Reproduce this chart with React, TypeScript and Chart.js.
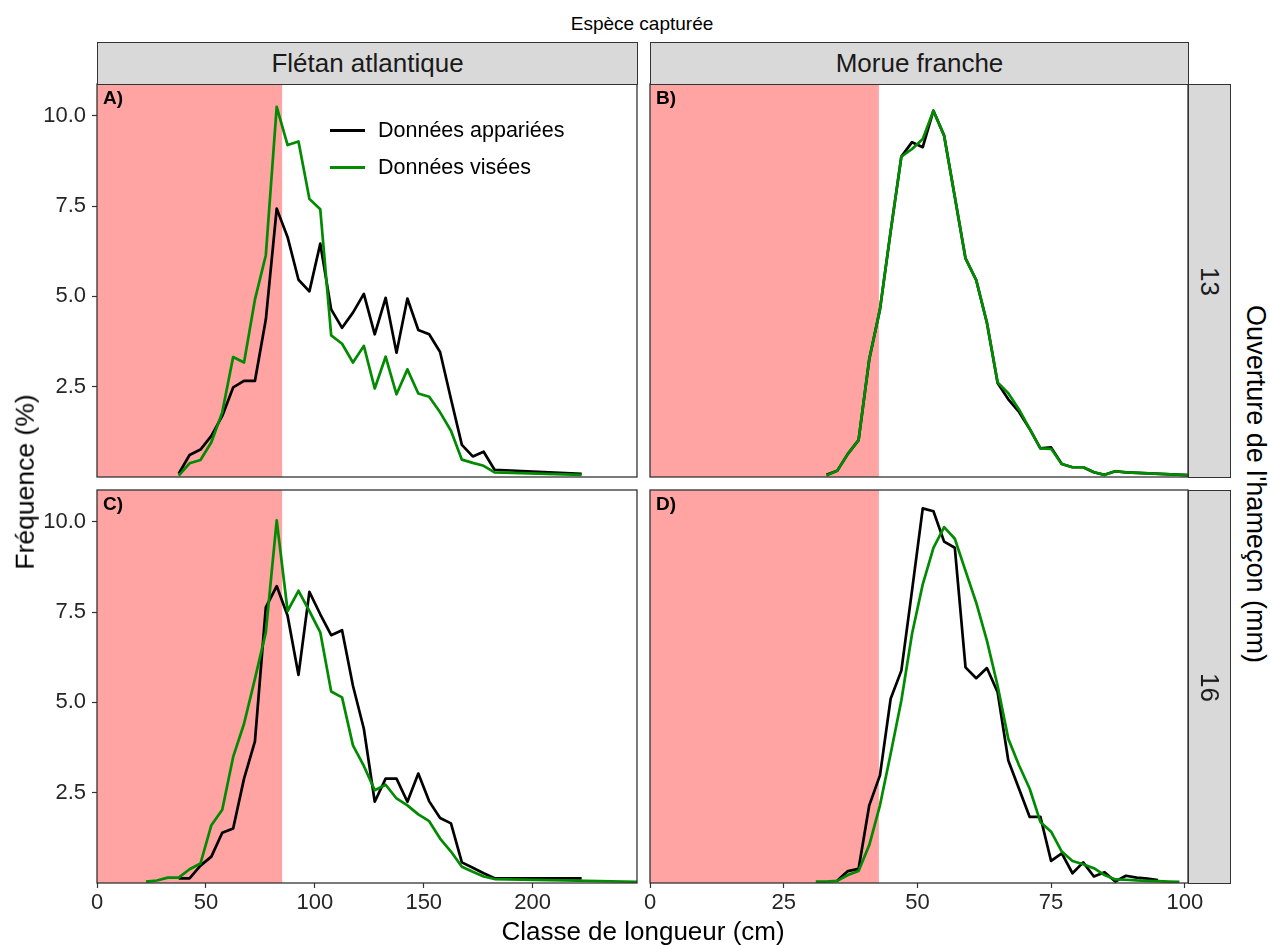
import React, { useEffect, useRef } from "react";
import { Chart, registerables } from "chart.js";

Chart.register(...registerables);

const FONT = "'Liberation Sans', Arial, Helvetica, sans-serif";
const BLACK = "#000000";
const GREEN = "#008B00";
const SHADE = "#FFA3A3";
const BORDER = "#333333";

// ---------- axes / labels ----------
const yTicks = [2.5, 5, 7.5, 10];
const yMax = 10.88;
const xTicksFletan = [0, 50, 100, 150, 200];
const xTicksMorue = [0, 25, 50, 75, 100];
const xMaxFletan = 247.9;
const xMaxMorue = 100.6;
const shadeFletan = [0, 85];
const shadeMorue = [0, 42.8];

const speciesLabels = ["Flétan atlantique", "Morue franche"];
const hookLabels = ["13", "16"];
const panelTags = ["A)", "B)", "C)", "D)"];
const seriesLabels = ["Données appariées", "Données visées"];

// ---------- Panel A : Flétan atlantique, 13 mm ----------
const xA = [37.5, 42.5, 47.5, 52.5, 57.5, 62.5, 67.5, 72.5, 77.5, 82.5, 87.5, 92.5, 97.5, 102.5, 107.5, 112.5, 117.5, 122.5, 127.5, 132.5, 137.5, 142.5, 147.5, 152.5, 157.5, 162.5, 167.5, 172.5, 177.5, 182.5, 222.5];
const pairedA = [0.09, 0.61, 0.76, 1.14, 1.69, 2.48, 2.66, 2.66, 4.36, 7.43, 6.64, 5.46, 5.14, 6.46, 4.64, 4.13, 4.55, 5.07, 3.95, 4.96, 3.44, 4.94, 4.07, 3.95, 3.46, 2.16, 0.89, 0.57, 0.7, 0.2, 0.09];
const targetedA = [0.04, 0.38, 0.47, 0.96, 1.79, 3.32, 3.17, 4.91, 6.14, 10.25, 9.19, 9.29, 7.7, 7.41, 3.92, 3.69, 3.17, 3.63, 2.45, 3.33, 2.29, 2.98, 2.31, 2.22, 1.79, 1.28, 0.48, 0.39, 0.31, 0.13, 0.06];

// ---------- Panel B : Morue franche, 13 mm ----------
const xB = [33, 35, 37, 39, 41, 43, 45, 47, 49, 51, 53, 55, 57, 59, 61, 63, 65, 67, 69, 71, 73, 75, 77, 79, 81, 83, 85, 87, 89, 101];
const pairedB = [0.06, 0.17, 0.64, 1.02, 3.26, 4.64, 6.8, 8.87, 9.27, 9.13, 10.14, 9.45, 7.75, 6.05, 5.45, 4.27, 2.6, 2.15, 1.8, 1.33, 0.79, 0.82, 0.36, 0.27, 0.27, 0.13, 0.06, 0.16, 0.13, 0.05];
const targetedB = [0.04, 0.17, 0.64, 1.02, 3.26, 4.64, 6.8, 8.87, 9.08, 9.36, 10.14, 9.45, 7.75, 6.05, 5.45, 4.27, 2.62, 2.32, 1.87, 1.33, 0.79, 0.78, 0.36, 0.27, 0.27, 0.13, 0.06, 0.16, 0.13, 0.05];

// ---------- Panel C : Flétan atlantique, 16 mm ----------
const xCPaired = [37.5, 42.5, 47.5, 52.5, 57.5, 62.5, 67.5, 72.5, 77.5, 82.5, 87.5, 92.5, 97.5, 102.5, 107.5, 112.5, 117.5, 122.5, 127.5, 132.5, 137.5, 142.5, 147.5, 152.5, 157.5, 162.5, 167.5, 172.5, 177.5, 182.5, 222.5];
const pairedC = [0.13, 0.13, 0.48, 0.73, 1.39, 1.51, 2.89, 3.92, 7.63, 8.22, 7.4, 5.76, 8.06, 7.44, 6.86, 7.0, 5.46, 4.27, 2.25, 2.89, 2.89, 2.25, 3.03, 2.26, 1.8, 1.65, 0.57, 0.42, 0.27, 0.13, 0.13];
const xCTargeted = [22.5, 27.5, 32.5, 37.5, 42.5, 47.5, 52.5, 57.5, 62.5, 67.5, 72.5, 77.5, 82.5, 87.5, 92.5, 97.5, 102.5, 107.5, 112.5, 117.5, 122.5, 127.5, 132.5, 137.5, 142.5, 147.5, 152.5, 157.5, 162.5, 167.5, 172.5, 177.5, 182.5, 252.5];
const targetedC = [0.04, 0.07, 0.15, 0.15, 0.38, 0.54, 1.6, 2.03, 3.49, 4.41, 5.65, 6.94, 10.04, 7.53, 8.09, 7.53, 6.94, 5.3, 5.14, 3.81, 3.24, 2.57, 2.72, 2.34, 2.15, 1.9, 1.71, 1.23, 0.87, 0.45, 0.31, 0.18, 0.11, 0.03];

// ---------- Panel D : Morue franche, 16 mm ----------
const xDPaired = [35, 37, 39, 41, 43, 45, 47, 49, 51, 53, 55, 57, 59, 61, 63, 65, 67, 69, 71, 73, 75, 77, 79, 81, 83, 85, 87, 89, 91, 93, 95];
const pairedD = [0.06, 0.33, 0.39, 2.15, 2.98, 5.1, 5.88, 8.1, 10.37, 10.29, 9.45, 9.28, 5.97, 5.67, 5.95, 5.28, 3.39, 2.61, 1.83, 1.83, 0.61, 0.82, 0.27, 0.57, 0.18, 0.3, 0.04, 0.2, 0.15, 0.12, 0.08];
const xDTargeted = [31, 33, 35, 37, 39, 41, 43, 45, 47, 49, 51, 53, 55, 57, 59, 61, 63, 65, 67, 69, 71, 73, 75, 77, 79, 81, 83, 85, 87, 89, 91, 93, 95, 97, 99];
const targetedD = [0.04, 0.04, 0.06, 0.22, 0.33, 1.05, 2.15, 3.58, 5.05, 6.9, 8.27, 9.28, 9.85, 9.53, 8.64, 7.76, 6.71, 5.46, 3.99, 3.26, 2.61, 1.69, 1.42, 0.87, 0.61, 0.52, 0.41, 0.22, 0.1, 0.09, 0.07, 0.06, 0.05, 0.04, 0.03];

type PanelProps = {
  left: number;
  top: number;
  width: number;
  height: number;
  padding: { left: number; right: number; top: number; bottom: number };
  xMax: number;
  xTicks: number[];
  shade: number[];
  showX: boolean;
  showY: boolean;
  pairedX: number[];
  pairedY: number[];
  targetedX: number[];
  targetedY: number[];
};

const TICK_COLOR = "#262626";
const TICK_SIZE = 22;

function Panel(p: PanelProps) {
  const ref = useRef<HTMLCanvasElement | null>(null);
  useEffect(() => {
    if (!ref.current) return;
    const decor = {
      id: "panelDecor",
      beforeDatasetsDraw(chart: any) {
        const { ctx, chartArea: a, scales } = chart;
        const x = scales.x;
        const x0 = x.getPixelForValue(p.shade[0]);
        const x1 = x.getPixelForValue(p.shade[1]);
        ctx.save();
        ctx.fillStyle = SHADE;
        ctx.fillRect(x0, a.top, x1 - x0, a.bottom - a.top);
        ctx.restore();
      },
      afterDraw(chart: any) {
        const { ctx, chartArea: a } = chart;
        ctx.save();
        ctx.strokeStyle = BORDER;
        ctx.lineWidth = 1.3;
        ctx.strokeRect(a.left, a.top, a.right - a.left, a.bottom - a.top);
        ctx.restore();
      },
    };
    const tickFont = { family: FONT, size: TICK_SIZE };
    const chart = new Chart(ref.current, {
      type: "line",
      data: {
        datasets: [
          {
            label: seriesLabels[0],
            data: p.pairedX.map((x, i) => ({ x, y: p.pairedY[i] })),
            borderColor: BLACK,
            borderWidth: 2.7,
            pointRadius: 0,
            tension: 0,
            borderJoinStyle: "round",
            order: 1,
          },
          {
            label: seriesLabels[1],
            data: p.targetedX.map((x, i) => ({ x, y: p.targetedY[i] })),
            borderColor: GREEN,
            borderWidth: 2.7,
            pointRadius: 0,
            tension: 0,
            borderJoinStyle: "round",
            order: 0,
          },
        ],
      },
      options: {
        animation: false,
        responsive: false,
        maintainAspectRatio: false,
        events: [],
        layout: { padding: p.padding, autoPadding: false },
        plugins: { legend: { display: false }, tooltip: { enabled: false } },
        scales: {
          x: {
            type: "linear",
            min: 0,
            max: p.xMax,
            display: p.showX,
            afterBuildTicks: (s: any) => {
              s.ticks = p.xTicks.map((v) => ({ value: v }));
            },
            afterFit: (s: any) => {
              if (p.showX) s.height = 34;
              s.paddingLeft = 0;
              s.paddingRight = 0;
            },
            grid: { display: true, drawOnChartArea: false, drawTicks: true, tickLength: 5, tickColor: BORDER, tickWidth: 1.2 },
            border: { display: false },
            ticks: { color: TICK_COLOR, font: tickFont, padding: 2, maxRotation: 0, autoSkip: false, callback: (v: any) => String(v) },
          },
          y: {
            type: "linear",
            min: 0,
            max: yMax,
            display: p.showY,
            afterBuildTicks: (s: any) => {
              s.ticks = yTicks.map((v) => ({ value: v }));
            },
            afterFit: (s: any) => {
              if (p.showY) s.width = 60;
              s.paddingTop = 0;
              s.paddingBottom = 0;
            },
            grid: { display: true, drawOnChartArea: false, drawTicks: true, tickLength: 5, tickColor: BORDER, tickWidth: 1.2 },
            border: { display: false },
            ticks: { color: TICK_COLOR, font: tickFont, padding: 6, autoSkip: false, callback: (v: any) => Number(v).toFixed(1) },
          },
        },
      } as any,
      plugins: [decor],
    });
    return () => chart.destroy();
  }, []);
  return (
    <canvas
      ref={ref}
      width={p.width}
      height={p.height}
      style={{ position: "absolute", left: p.left, top: p.top, width: p.width, height: p.height }}
    />
  );
}

function Label(props: { x: number; y: number; size: number; rotate?: number; bold?: boolean; color?: string; children: any }) {
  return (
    <div
      style={{
        position: "absolute",
        left: props.x,
        top: props.y,
        transform: `translate(-50%, -50%) rotate(${props.rotate || 0}deg)`,
        fontSize: props.size,
        fontWeight: props.bold ? "bold" : "normal",
        color: props.color || "#000",
        whiteSpace: "nowrap",
        lineHeight: 1,
      }}
    >
      {props.children}
    </div>
  );
}

export default function App() {
  const leftCol = { left: 27, width: 611, padL: 10, padR: 1 };
  const rightCol = { left: 640, width: 570, padL: 10, padR: 22 };
  const topRow = { top: 83, height: 395, padT: 1, padB: 1 };
  const botRow = { top: 489, height: 428, padT: 1, padB: 0 };

  const stripStyle: React.CSSProperties = {
    position: "absolute",
    boxSizing: "border-box",
    background: "#D9D9D9",
    border: `1px solid ${BORDER}`,
    display: "flex",
    alignItems: "center",
    justifyContent: "center",
    color: "#1A1A1A",
    fontSize: 26,
  };

  const tagStyle: React.CSSProperties = { position: "absolute", fontSize: 19, fontWeight: "bold", color: "#000", lineHeight: 1 };
  const legendText: React.CSSProperties = { position: "absolute", left: 378, transform: "translateY(-50%)", fontSize: 21.5, color: "#000", whiteSpace: "nowrap", lineHeight: 1 };

  return (
    <div style={{ position: "absolute", left: 0, top: 0, width: 1270, height: 945, background: "#fff", fontFamily: FONT, overflow: "hidden" }}>
      <Panel
        left={leftCol.left} top={topRow.top} width={leftCol.width} height={topRow.height}
        padding={{ left: leftCol.padL, right: leftCol.padR, top: topRow.padT, bottom: topRow.padB }}
        xMax={xMaxFletan} xTicks={xTicksFletan} shade={shadeFletan} showX={false} showY={true}
        pairedX={xA} pairedY={pairedA} targetedX={xA} targetedY={targetedA}
      />
      <Panel
        left={rightCol.left} top={topRow.top} width={rightCol.width} height={topRow.height}
        padding={{ left: rightCol.padL, right: rightCol.padR, top: topRow.padT, bottom: topRow.padB }}
        xMax={xMaxMorue} xTicks={xTicksMorue} shade={shadeMorue} showX={false} showY={false}
        pairedX={xB} pairedY={pairedB} targetedX={xB} targetedY={targetedB}
      />
      <Panel
        left={leftCol.left} top={botRow.top} width={leftCol.width} height={botRow.height}
        padding={{ left: leftCol.padL, right: leftCol.padR, top: botRow.padT, bottom: botRow.padB }}
        xMax={xMaxFletan} xTicks={xTicksFletan} shade={shadeFletan} showX={true} showY={true}
        pairedX={xCPaired} pairedY={pairedC} targetedX={xCTargeted} targetedY={targetedC}
      />
      <Panel
        left={rightCol.left} top={botRow.top} width={rightCol.width} height={botRow.height}
        padding={{ left: rightCol.padL, right: rightCol.padR, top: botRow.padT, bottom: botRow.padB }}
        xMax={xMaxMorue} xTicks={xTicksMorue} shade={shadeMorue} showX={true} showY={false}
        pairedX={xDPaired} pairedY={pairedD} targetedX={xDTargeted} targetedY={targetedD}
      />

      {/* top strips */}
      <div style={{ ...stripStyle, left: 97, top: 42, width: 541, height: 43 }}>{speciesLabels[0]}</div>
      <div style={{ ...stripStyle, left: 650, top: 42, width: 539, height: 43 }}>{speciesLabels[1]}</div>
      {/* right strips */}
      <div style={{ ...stripStyle, left: 1188, top: 84, width: 43, height: 394 }}>
        <span style={{ transform: "rotate(90deg)", display: "inline-block" }}>{hookLabels[0]}</span>
      </div>
      <div style={{ ...stripStyle, left: 1188, top: 490, width: 43, height: 394 }}>
        <span style={{ transform: "rotate(90deg)", display: "inline-block" }}>{hookLabels[1]}</span>
      </div>

      {/* titles */}
      <Label x={642} y={23} size={19}>Espèce capturée</Label>
      <Label x={643} y={931} size={26}>Classe de longueur (cm)</Label>
      <Label x={25} y={482} size={26.5}>
        <span style={{ display: "inline-block", transform: "rotate(-90deg)" }}>Fréquence (%)</span>
      </Label>
      <Label x={1255} y={484} size={27} rotate={90}>Ouverture de l'hameçon (mm)</Label>

      {/* panel tags */}
      <div style={{ ...tagStyle, left: 103, top: 88 }}>{panelTags[0]}</div>
      <div style={{ ...tagStyle, left: 656, top: 88 }}>{panelTags[1]}</div>
      <div style={{ ...tagStyle, left: 103, top: 494 }}>{panelTags[2]}</div>
      <div style={{ ...tagStyle, left: 656, top: 494 }}>{panelTags[3]}</div>

      {/* legend */}
      <div style={{ position: "absolute", left: 330, top: 129, width: 35, height: 3, background: BLACK }} />
      <div style={{ position: "absolute", left: 330, top: 166, width: 35, height: 3, background: GREEN }} />
      <div style={{ ...legendText, top: 131 }}>{seriesLabels[0]}</div>
      <div style={{ ...legendText, top: 168 }}>{seriesLabels[1]}</div>
    </div>
  );
}
